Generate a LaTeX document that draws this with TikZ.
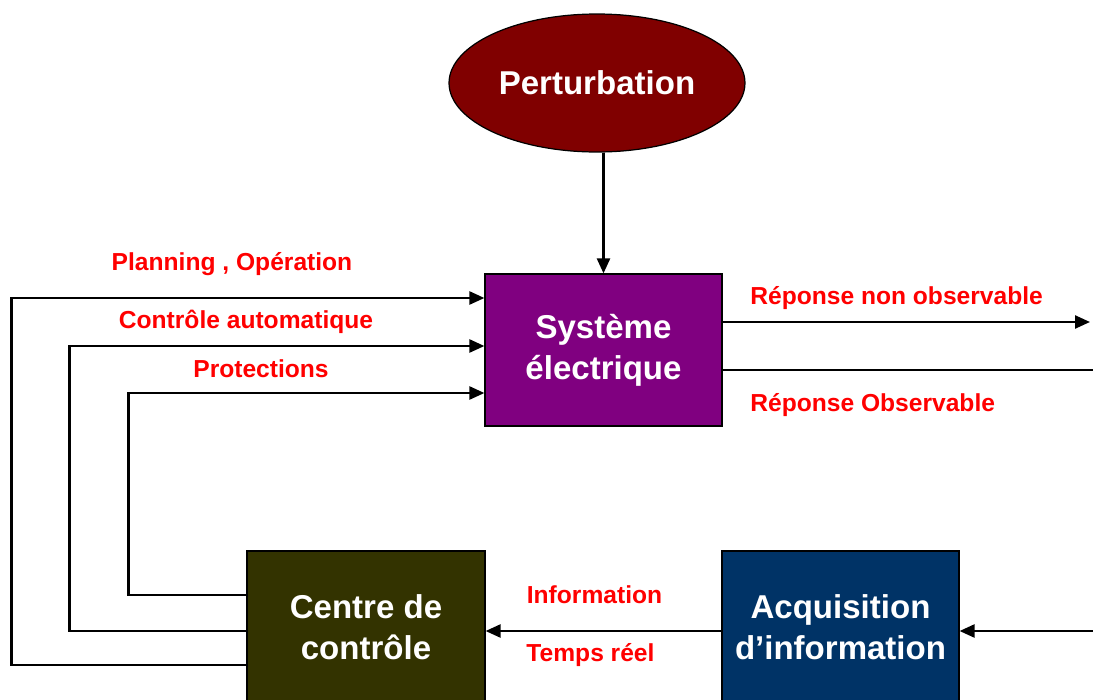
\documentclass[tikz,border=0pt]{standalone}
\usepackage{fontspec}
\setmainfont{Liberation Sans}
\usepackage{tikz}
\usetikzlibrary{arrows.meta, shapes.geometric, calc}
\definecolor{perturbred}{HTML}{800000}
\definecolor{sysviolet}{HTML}{800080}
\definecolor{olivedark}{HTML}{333300}
\definecolor{acqblue}{HTML}{003366}
\definecolor{labelred}{HTML}{FF0000}
\newcommand{\feedback}[3]
{
	\draw[flow] ($(ctrl.west)+(0,#1)$) -| ($(sys.west)+(#3,#2)$) -- ($(sys.west)+(0,#2)$)
}

\begin{document}
\begin{tikzpicture}[x=0.02cm, y=-0.02cm,
	block/.style={draw=black, line width=0.7pt, text=white, inner sep=0pt,
		align=center, font=\bfseries\fontsize{18.8}{23.3}\selectfont,
		minimum width=4.74cm, minimum height=3.04cm},
	tag/.style={text=labelred, inner sep=0pt, font=\bfseries\fontsize{14}{16}\selectfont},
	flow/.style={line width=1.4pt, -{Triangle[length=0.3cm, width=0.26cm]}},
	wire/.style={line width=1.4pt}]
	\useasboundingbox (0,0) rectangle (1093,700);
	\clip (0,0) rectangle (1093,700);

	\node[block, ellipse, fill=perturbred, minimum width=5.92cm, minimum height=2.76cm] (pert) at (597,83) {Perturbation};
	\node[block, fill=sysviolet] (sys) at (603.5,350) {Système\\électrique};
	\node[block, fill=olivedark, minimum width=4.76cm] (ctrl) at (366,627) {Centre de\\contrôle};
	\node[block, fill=acqblue] (acq) at (840.5,627) {Acquisition\\d’information};

	\coordinate (outHidden) at (1090,322);
	\coordinate (outSeen) at (1093,370);
	\coordinate (inMeas) at (1093,631);

	\draw[flow] (pert.south -| sys.north) -- (sys.north);
	\draw[flow] ($(sys.east)+(0,-28)$) -- (outHidden);
	\draw[wire] ($(sys.east)+(0,20)$) -- (outSeen);
	\draw[flow] (inMeas) -- (inMeas -| acq.east);
	\draw[flow] ($(acq.west)+(0,4)$) -- ($(ctrl.east)+(0,4)$);

	% boucles de retour vers le système
	\feedback{38}{-52}{-473};
	\feedback{4}{-4}{-415};
	\feedback{-32}{43}{-356};

	\node[tag] (lplan) at (232,264) {Planning , Opération};
	\node[tag] (lauto) at (246,322) {Contrôle automatique};
	\node[tag] (lprot) at (261,369) {Protections};
	\node[tag, anchor=west] (lhidden) at (750,298) {Réponse non observable};
	\node[tag, anchor=west] (lseen) at (750,405) {Réponse Observable};
	\node[tag] (linfo) at (594.5,595) {Information};
	\node[tag] (ltemps) at (590.5,655) {Temps réel};
\end{tikzpicture}
\end{document}
